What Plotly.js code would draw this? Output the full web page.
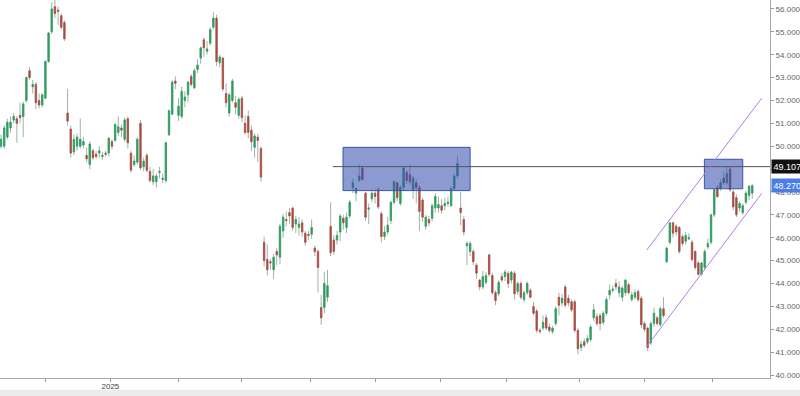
<!DOCTYPE html>
<html>
<head>
<meta charset="utf-8">
<script src="https://cdn.plot.ly/plotly-3.0.1.min.js"></script>
<style>html,body{margin:0;padding:0;background:#fff;}#chart{width:800px;height:396px;}</style>
</head>
<body>
<div id="chart"></div>
<script>
// OHLC values (one entry per trading day, oldest first)
const openP = [
50.0,50.0,50.4,50.8,51.15,51.2,51.35,51.3,52.0,53.3,
52.6,52.7,52.0,51.8,52.1,53.7,55.0,56.1,55.95,55.7,
55.4,51.45,50.75,49.75,50.0,50.0,50.05,49.6,49.2,49.8,
49.65,49.7,49.55,49.7,49.7,50.2,50.25,50.6,50.8,50.3,
51.2,49.7,49.2,49.3,51.0,49.1,49.6,48.9,48.45,48.45,
48.85,48.55,48.5,50.5,51.4,52.85,51.35,51.3,52.0,52.25,
53.05,52.55,53.35,53.85,54.65,54.15,54.5,55.2,55.6,53.65,
53.85,52.3,51.45,52.0,51.9,51.35,52.1,51.0,51.3,50.7,
49.95,50.4,49.9,45.8,45.05,44.95,44.6,45.4,45.15,46.3,
46.8,47.1,47.3,46.6,46.45,46.65,46.2,46.15,46.15,45.55,
45.4,42.95,42.95,43.4,46.5,45.9,45.9,46.25,46.85,46.45,
46.95,48.2,47.95,48.5,49.05,47.95,47.25,47.7,47.95,48.1,
47.05,46.05,46.25,46.75,47.55,48.4,47.5,48.2,48.85,48.75,
48.1,48.4,48.2,47.65,46.5,46.8,46.85,47.3,47.3,47.4,
47.4,47.5,47.4,48.15,48.7,47.3,46.8,45.65,45.4,45.4,
44.8,44.15,43.85,44.05,45.25,44.35,43.6,43.55,44.3,44.3,
44.45,44.15,44.45,43.65,44.0,43.3,43.6,43.7,43.0,42.8,
41.95,42.05,42.5,42.1,41.9,42.25,43.4,43.15,43.85,43.35,
43.2,43.2,41.95,41.2,41.45,41.45,41.55,42.5,42.55,42.6,
42.3,42.7,43.5,43.7,44.0,43.6,43.4,43.6,43.95,43.3,
43.4,43.65,43.35,42.25,42.05,41.4,42.25,42.5,42.2,42.9,
44.95,45.8,46.65,46.5,46.45,46.05,45.85,45.95,45.8,45.4,
44.9,44.4,44.7,45.6,45.8,47.0,48.2,48.15,48.6,48.4,
49.0,48.0,47.75,47.3,47.1,47.55,47.85,47.95
];
const highP = [
50.5,50.9,51.2,51.3,51.45,51.3,51.9,51.95,53.05,53.45,
52.9,52.8,52.3,52.3,53.75,55.0,56.3,56.4,56.1,55.8,
55.5,52.5,50.9,50.5,50.55,51.2,50.4,49.95,50.2,49.9,
49.8,50.0,49.75,49.8,50.4,50.3,51.0,51.3,50.95,51.25,
51.3,49.8,49.6,50.4,51.15,49.5,49.7,49.1,49.0,48.8,
49.1,48.8,50.2,51.6,52.9,53.05,52.1,52.6,52.4,52.85,
53.15,53.4,53.8,54.35,54.75,54.6,55.2,55.85,55.75,54.0,
53.9,52.75,52.35,52.95,52.2,52.15,52.2,51.35,51.55,50.9,
50.55,50.55,50.0,46.05,45.7,45.05,45.3,45.55,46.6,47.05,
47.15,47.3,47.35,46.95,46.9,46.8,46.3,46.3,46.8,45.65,
45.5,43.5,44.5,44.6,47.55,46.1,46.3,47.05,47.0,47.1,
47.65,48.6,48.2,49.2,49.15,48.0,47.5,48.05,48.1,48.2,
47.15,46.5,46.9,47.6,48.5,48.45,48.3,49.1,48.95,49.2,
48.7,48.55,48.3,47.75,47.0,46.95,47.5,47.95,47.8,47.7,
47.75,47.8,48.25,48.8,49.55,48.0,46.95,45.85,45.85,45.5,
44.9,44.2,44.55,44.5,45.3,44.45,43.7,44.15,44.45,44.6,
44.55,44.55,44.55,44.1,44.1,43.7,44.1,43.8,43.2,42.9,
42.05,42.6,42.65,42.25,42.15,43.0,43.6,43.55,43.95,43.5,
43.3,43.3,42.05,41.5,41.6,41.75,42.2,43.1,42.7,42.7,
42.8,43.4,43.95,43.9,44.2,44.1,43.9,44.2,44.05,43.65,
43.75,43.75,43.45,42.35,42.1,42.35,42.95,42.6,43.0,43.4,
45.6,46.7,46.7,46.6,46.5,46.15,46.25,46.2,45.9,45.45,
45.0,44.95,45.5,45.95,47.05,48.15,48.3,48.55,48.9,49.1,
49.1,48.1,47.9,47.6,47.5,48.05,48.3,48.35
];
const lowP = [
49.9,49.9,50.3,50.6,51.0,50.15,51.0,50.4,51.9,52.9,
52.3,51.6,51.65,51.7,52.05,53.65,54.9,55.6,55.3,55.1,
54.6,50.9,49.5,49.6,49.8,49.9,49.9,49.3,49.0,49.4,
49.45,49.5,49.4,49.55,49.55,49.85,50.2,50.45,50.4,50.2,
49.9,48.85,49.1,49.2,48.95,48.9,48.85,48.4,48.3,48.2,
48.6,48.4,48.4,50.45,51.35,52.5,51.1,51.2,51.7,51.9,
52.6,52.5,53.2,53.6,53.9,54.0,54.4,55.1,53.5,53.45,
52.4,51.7,51.3,51.9,51.4,51.2,51.05,50.5,50.35,49.8,
49.5,49.3,48.45,44.75,44.35,44.6,44.2,44.8,44.85,46.0,
46.5,46.6,46.3,46.2,46.1,46.05,45.65,45.9,45.95,45.2,
43.6,42.2,42.7,43.2,45.2,45.25,45.7,45.85,46.35,46.2,
46.85,47.95,47.6,48.45,48.5,46.75,46.6,47.55,47.5,47.25,
45.8,45.9,46.1,46.6,47.45,47.6,47.4,48.1,48.35,48.3,
47.7,47.5,46.3,46.7,46.35,46.5,46.7,47.1,47.1,47.05,
47.2,47.35,47.35,48.05,48.6,46.55,46.1,44.8,45.2,44.8,
44.2,43.7,43.75,43.95,44.3,43.5,43.05,43.45,44.05,44.1,
43.8,44.0,43.3,43.5,43.3,43.2,43.5,43.35,42.6,41.85,
41.8,41.95,41.95,41.85,41.8,42.15,42.6,43.0,42.95,43.0,
42.75,41.85,40.9,41.05,41.2,41.35,41.45,42.35,42.15,41.95,
42.2,42.6,43.3,43.6,43.7,43.4,43.2,43.45,43.5,43.2,
43.3,43.2,42.05,41.9,41.05,41.3,42.1,42.15,42.1,42.5,
44.9,45.7,46.0,46.1,45.3,45.65,45.7,45.9,44.95,44.6,
44.35,44.35,44.6,45.5,45.7,46.9,47.75,48.05,48.3,48.3,
48.0,47.2,46.9,47.15,47.0,47.45,47.65,47.7
];
const closeP = [
50.3,50.8,51.05,51.05,51.3,51.0,51.25,51.85,53.0,53.0,
52.7,51.9,51.8,52.25,53.7,54.95,56.0,55.8,55.9,55.2,
54.7,51.1,49.7,50.3,50.4,50.3,50.2,49.45,50.1,49.5,
49.55,49.8,49.6,49.65,50.35,50.0,50.95,50.85,50.7,51.15,
50.15,48.95,49.35,50.3,49.05,49.35,48.95,48.5,48.7,48.7,
48.9,48.6,50.15,51.55,52.8,52.75,51.75,52.4,52.15,52.8,
52.7,53.3,53.55,54.3,54.3,54.25,55.1,55.6,53.7,53.9,
52.5,51.9,52.25,52.85,51.7,52.05,51.25,50.6,50.6,50.2,
50.45,50.25,48.65,45.0,44.6,44.9,45.15,45.25,46.5,46.9,
46.75,46.95,46.45,46.8,46.6,46.25,45.8,46.1,46.45,45.4,
44.7,42.5,44.0,43.9,45.35,45.4,46.1,46.95,46.65,46.9,
47.55,48.4,48.15,48.7,48.55,46.9,47.3,47.95,47.8,47.35,
46.05,46.25,46.55,47.55,48.45,47.75,48.2,49.05,48.5,48.45,
48.6,48.2,47.15,46.9,46.9,46.65,47.4,47.8,47.45,47.2,
47.5,47.55,48.15,48.7,49.25,47.1,46.25,45.75,45.75,44.95,
44.45,43.85,44.3,44.35,44.4,43.6,43.25,44.05,44.15,44.5,
44.0,44.5,43.55,44.0,43.4,43.6,44.0,43.4,42.7,41.95,
41.9,42.3,42.05,41.95,42.05,42.9,43.05,43.35,43.05,43.15,
42.85,41.95,41.15,41.35,41.3,41.6,42.1,42.85,42.25,42.25,
42.7,43.3,43.7,43.75,43.85,43.85,43.8,44.15,43.6,43.5,
43.6,43.3,42.2,42.0,41.2,42.25,42.7,42.25,42.9,42.6,
45.55,46.65,46.2,46.25,45.4,45.75,46.1,46.0,45.05,44.7,
44.4,44.9,45.4,45.75,47.0,48.1,47.8,48.4,48.4,48.8,
48.1,47.35,47.0,47.5,47.4,47.95,48.25,48.27
];
// x-axis: tick positions (candle index of month starts) and labels
const monthTickIdx = [14, 34.5, 56, 76, 97.5, 118, 138.5, 159.5, 182.5, 203, 224.5];
const monthTickText = ['', '2025', '', '', '', '', '', '', '', '', ''];
// price ticks on right axis (49.000 is hidden behind the level label in the reference)
const priceTicks = [40,41,42,43,44,45,46,47,48,49,50,51,52,53,54,55,56];
const priceTickText = ['40.000','41.000','42.000','43.000','44.000','45.000','46.000','47.000','48.000','',
                       '50.000','51.000','52.000','53.000','54.000','55.000','56.000'];
// drawn objects (candle index, price)
const zoneA = {i0: 107.9, i1: 148.0, p0: 48.06, p1: 49.95};
const zoneB = {i0: 221.9, i1: 234.0, p0: 48.14, p1: 49.43};
const resistLevel = 49.107, resistStart = 104.7;
const lastPrice = 48.270;
const channelUpper = {i0: 203.7, p0: 45.46, i1: 240.0, p1: 52.1};
const channelLower = {i0: 203.7, p0: 41.24, i1: 240.0, p1: 47.94};

const xIdx = openP.map((_, i) => i);
const bodyHi = openP.map((o, i) => Math.max(o, closeP[i]));
const bodyLo = openP.map((o, i) => Math.min(o, closeP[i]));
const UP = '#26a05c', DN = '#b3463f', WICK = '#9fb2a7';
const xRange = [-0.32, 242.6];

const wicks = {
  type: 'candlestick', x: xIdx, open: openP, high: highP, low: lowP, close: closeP,
  increasing: {line: {color: WICK, width: 1}, fillcolor: 'rgba(0,0,0,0)'},
  decreasing: {line: {color: WICK, width: 1}, fillcolor: 'rgba(0,0,0,0)'},
  whiskerwidth: 0, hoverinfo: 'skip', showlegend: false
};
const bodies = {
  type: 'candlestick', x: xIdx, open: openP, high: bodyHi, low: bodyLo, close: closeP,
  increasing: {line: {color: UP, width: 0.6}, fillcolor: UP},
  decreasing: {line: {color: DN, width: 0.6}, fillcolor: DN},
  whiskerwidth: 0, showlegend: false
};

const font = 'Liberation Sans, Arial, sans-serif';
const layout = {
  width: 800, height: 396,
  margin: {l: 0, r: 30, t: 0, b: 18},
  paper_bgcolor: '#fff', plot_bgcolor: '#fff',
  showlegend: false, boxgap: 0.4,
  xaxis: {
    range: xRange, rangeslider: {visible: false}, showgrid: false, zeroline: false,
    showline: true, linecolor: '#a9a9a9', linewidth: 1,
    tickmode: 'array', tickvals: monthTickIdx, ticktext: monthTickText,
    ticks: 'outside', ticklen: 3, tickcolor: '#999', ticklabelstandoff: -3,
    tickfont: {family: font, size: 8, color: '#444'}, fixedrange: true
  },
  yaxis: {
    side: 'right', range: [39.87, 56.39], showgrid: false, zeroline: false,
    showline: true, linecolor: '#a9a9a9', linewidth: 1,
    tickmode: 'array', tickvals: priceTicks, ticktext: priceTickText,
    ticks: 'outside', ticklen: 3, tickcolor: '#999',
    tickfont: {family: font, size: 8, color: '#666'}, fixedrange: true
  },
  shapes: [
    {type: 'rect', xref: 'paper', yref: 'paper', x0: -0.01, x1: 1.05, y0: -0.048, y1: -0.031,
     fillcolor: '#ececec', line: {width: 0}, layer: 'below'},
    {type: 'rect', xref: 'x', yref: 'y', x0: zoneA.i0, x1: zoneA.i1, y0: zoneA.p0, y1: zoneA.p1,
     fillcolor: 'rgba(50,75,175,0.56)', line: {color: '#3b52ad', width: 1}, layer: 'above'},
    {type: 'rect', xref: 'x', yref: 'y', x0: zoneB.i0, x1: zoneB.i1, y0: zoneB.p0, y1: zoneB.p1,
     fillcolor: 'rgba(50,75,175,0.56)', line: {color: '#3b52ad', width: 1}, layer: 'above'},
    {type: 'line', xref: 'x', yref: 'y', x0: resistStart, x1: xRange[1], y0: resistLevel, y1: resistLevel,
     line: {color: '#555', width: 1}},
    {type: 'line', xref: 'x', yref: 'y', x0: channelUpper.i0, x1: channelUpper.i1, y0: channelUpper.p0, y1: channelUpper.p1,
     line: {color: '#b27de3', width: 1}},
    {type: 'line', xref: 'x', yref: 'y', x0: channelLower.i0, x1: channelLower.i1, y0: channelLower.p0, y1: channelLower.p1,
     line: {color: '#b27de3', width: 1}}
  ],
  annotations: [
    {xref: 'paper', yref: 'y', x: 1, y: resistLevel, xanchor: 'left', yanchor: 'middle', xshift: 1,
     text: resistLevel.toFixed(3), showarrow: false, bgcolor: '#111', borderpad: 1.5,
     font: {family: font, size: 9, color: '#fff'}},
    {xref: 'paper', yref: 'y', x: 1, y: lastPrice, xanchor: 'left', yanchor: 'middle', xshift: 1,
     text: lastPrice.toFixed(3), showarrow: false, bgcolor: '#4a7ee6', borderpad: 1.5,
     font: {family: font, size: 9, color: '#fff'}}
  ]
};
Plotly.newPlot('chart', [wicks, bodies], layout, {displayModeBar: false, staticPlot: true});
</script>
</body>
</html>
